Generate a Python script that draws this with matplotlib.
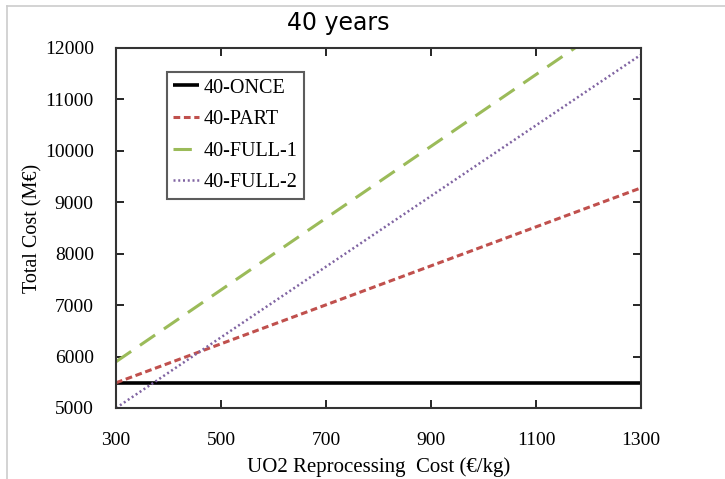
import matplotlib.pyplot as plt
from matplotlib.lines import Line2D

# data
cost = [300, 1300]
once = [5480, 5480]
part = [5490, 9280]
full1 = [5900, 12880]
full2 = [5000, 11870]

xticks = [300, 500, 700, 900, 1100, 1300]
yticks = list(range(5000, 12001, 1000))

plt.rcParams["font.family"] = ["Liberation Serif", "DejaVu Serif"]

fig = plt.figure(figsize=(7.25, 4.79), dpi=100)
ax = fig.add_axes([116/725, 1 - 408/479, 525/725, 360/479])

ax.plot(cost, once, color="black", lw=2.6, label="40-ONCE", solid_capstyle="butt")
ax.plot(cost, part, color="#c0504d", lw=2.2, ls=(0, (2.2, 1.2)), label="40-PART")
ax.plot(cost, full1, color="#9bbb59", lw=2.2, ls=(0, (6, 3.5)), label="40-FULL-1")
ax.plot(cost, full2, color="#8064a2", lw=1.8, ls=(0, (0.8, 1.1)), label="40-FULL-2")

ax.set_xlim(300, 1300)
ax.set_ylim(5000, 12000)
ax.set_xticks(xticks)
ax.set_yticks(yticks)
ax.tick_params(direction="in", top=True, right=True, length=6, width=1.2,
               labelsize=14)
ax.tick_params(axis="y", pad=16)
ax.tick_params(axis="x", pad=17)
for s in ax.spines.values():
    s.set_linewidth(1.5)
    s.set_color("#333333")

ax.set_xlabel("UO2 Reprocessing  Cost (€/kg)", fontsize=15, labelpad=6)
ax.set_ylabel("Total Cost (M€)", fontsize=14.5, labelpad=2)
fig.text(338/725, 1 - 30/479, "40 years", fontsize=17, family=["DejaVu Sans"],
         ha="center", va="baseline")

leg = ax.legend(loc="upper left", bbox_to_anchor=(51/525, 1 - 24/360), fontsize=14.5,
                frameon=True, fancybox=False, edgecolor="#333333",
                handlelength=1.25, handletextpad=0.25, borderpad=0.32,
                labelspacing=0.62, borderaxespad=0)
leg.get_frame().set_linewidth(1.5)

# slide border lines seen in the screenshot
fig.add_artist(Line2D([7/725, 1], [1 - 6/479, 1 - 6/479], color="#cccccc", lw=1.2))
fig.add_artist(Line2D([7/725, 7/725], [0, 1 - 6/479], color="#cccccc", lw=1.2))

fig.savefig("out.png", dpi=100)
